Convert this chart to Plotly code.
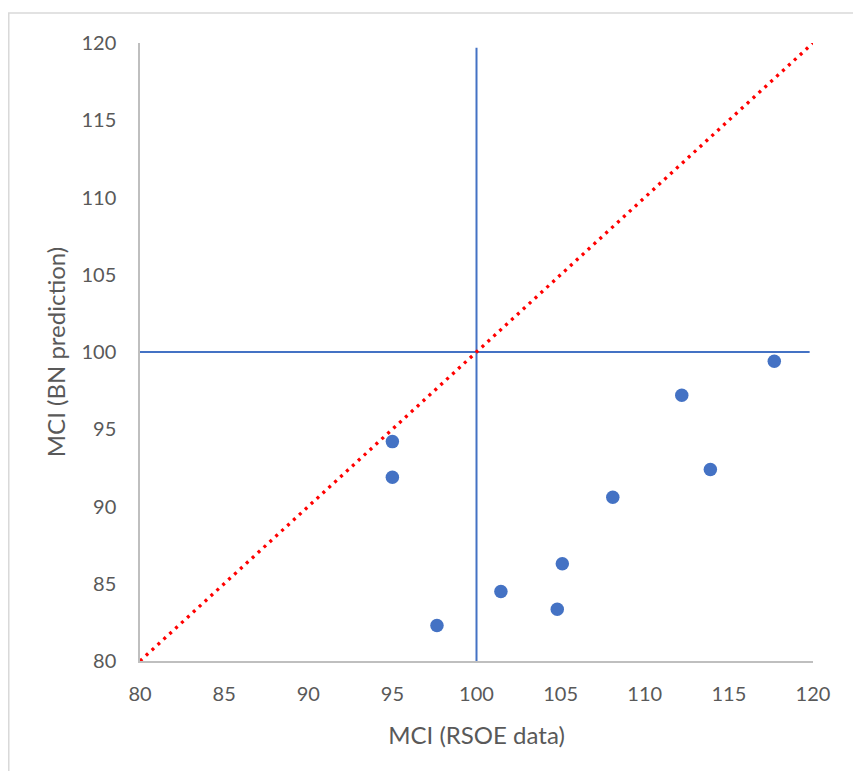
import plotly.graph_objects as go

# Data
rsoe_mci = [95.0, 95.0, 97.65, 101.45, 104.8, 105.1, 108.1, 112.2, 113.9, 117.7]
bn_mci = [94.2, 91.9, 82.3, 84.5, 83.35, 86.3, 90.6, 97.2, 92.4, 99.4]
diag_x = [80, 120]
diag_y = [80, 120]
hline_x = [80, 119.8]
hline_y = [100, 100]
vline_x = [100, 100]
vline_y = [80, 119.7]
tick_vals = [80, 85, 90, 95, 100, 105, 110, 115, 120]

FONT = "Lato"
TXT = "#595959"
BLUE = "#4472C4"

fig = go.Figure()
fig.add_trace(go.Scatter(x=hline_x, y=hline_y, mode="lines",
                         line=dict(color=BLUE, width=2), hoverinfo="skip"))
fig.add_trace(go.Scatter(x=vline_x, y=vline_y, mode="lines",
                         line=dict(color=BLUE, width=2), hoverinfo="skip"))
fig.add_trace(go.Scatter(x=diag_x, y=diag_y, mode="lines",
                         line=dict(color="#FF0000", width=3.3, dash="3px,5px"),
                         hoverinfo="skip"))
fig.add_trace(go.Scatter(x=rsoe_mci, y=bn_mci, mode="markers",
                         marker=dict(color=BLUE, size=13.5, line=dict(width=0))))

fig.update_layout(
    width=853, height=771,
    margin=dict(l=139.5, r=40, t=43, b=110),
    plot_bgcolor="white", paper_bgcolor="white",
    showlegend=False,
    font=dict(family=FONT, size=20, color=TXT),
    shapes=[dict(type="rect", xref="paper", yref="paper",
                 x0=-0.195, x1=1.3, y0=-0.4, y1=1.0485,
                 line=dict(color="#D9D9D9", width=1.5), layer="below")],
)
fig.update_xaxes(range=[80, 120], tickvals=tick_vals, showgrid=False, zeroline=False,
                 showline=True, linecolor="#BFBFBF", linewidth=1.5, ticks="",
                 ticklabelstandoff=14,
                 tickfont=dict(family=FONT, size=20, color=TXT),
                 title=dict(text="MCI (RSOE data)", standoff=23,
                            font=dict(family=FONT, size=24, color=TXT)))
fig.update_yaxes(range=[80, 120], tickvals=tick_vals, showgrid=False, zeroline=False,
                 showline=True, linecolor="#BFBFBF", linewidth=1.5, ticks="",
                 ticklabelstandoff=18,
                 tickfont=dict(family=FONT, size=20, color=TXT),
                 title=dict(text="MCI (BN prediction)", standoff=9,
                            font=dict(family=FONT, size=24, color=TXT)))

fig.write_html("out.html")
